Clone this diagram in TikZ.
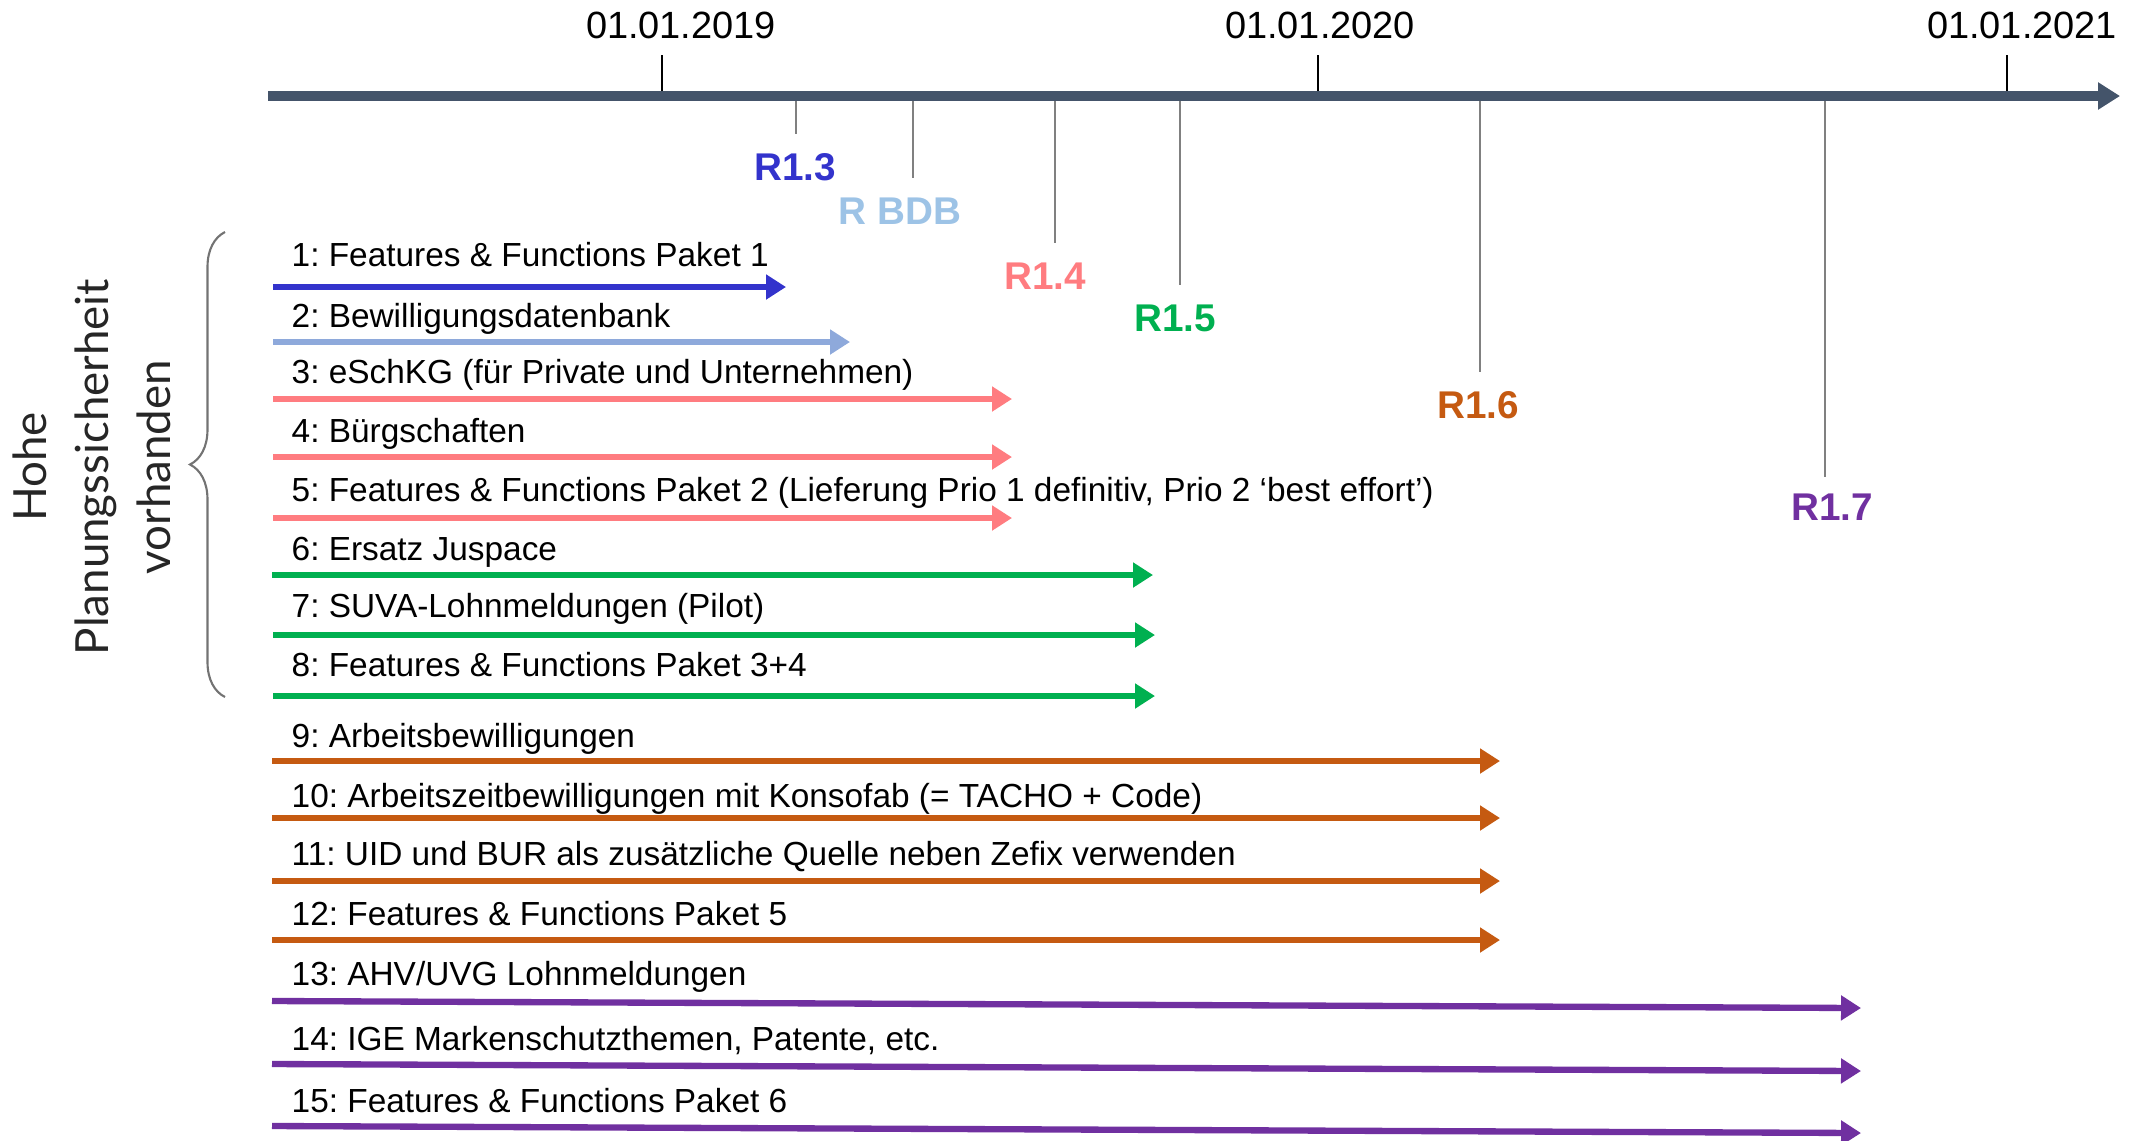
\documentclass[tikz,border=0pt]{standalone}
\usepackage{fontspec}
\setmainfont{Liberation Sans}
\newfontfamily\latofont{Lato}
\usetikzlibrary{arrows.meta,decorations.pathreplacing}
\frenchspacing
\definecolor{axisgray}{HTML}{44546A}
\definecolor{cR13}{HTML}{3333CC}
\definecolor{cBDB}{HTML}{9DC3E6}
\definecolor{cBDBbar}{HTML}{8EA9DB}
\definecolor{cR14}{HTML}{FF7C80}
\definecolor{cR15}{HTML}{00B050}
\definecolor{cR16}{HTML}{C55A11}
\definecolor{cR17}{HTML}{7030A0}
\tikzstyle{task}=[anchor=base west,inner sep=0pt,font=\fontsize{9.5}{11.4}\selectfont]
\tikzstyle{bar}=[line width=1.8pt,-{Triangle[length=2mm,width=2.4mm]}]
\tikzstyle{release}=[inner sep=0pt,font=\fontsize{11}{13}\selectfont\bfseries]
\tikzstyle{date}=[anchor=base,inner sep=0pt,font=\fontsize{10.8}{13}\selectfont]
\tikzstyle{rtick}=[black!50,line width=0.5pt]
\tikzstyle{dtick}=[black,line width=0.5pt]

\begin{document}
\begin{tikzpicture}
\useasboundingbox (0,0) rectangle (21.31,-11.40);

% time axis with dates
\coordinate (ax0) at (2.68,-0.96);
\coordinate (ax1) at (21.20,-0.96);
\coordinate (d19) at (6.62,-0.96);
\coordinate (d20) at (13.18,-0.96);
\coordinate (d21) at (20.07,-0.96);
\node[date] (l19) at (6.81,-0.38) {01.01.2019};
\node[date] (l20) at (13.20,-0.38) {01.01.2020};
\node[date] (l21) at (20.22,-0.38) {01.01.2021};
\draw[dtick] (d19)--([yshift=-1.6mm]d19 |- l19.south);
\draw[dtick] (d20)--([yshift=-1.6mm]d20 |- l20.south);
\draw[dtick] (d21)--([yshift=-1.6mm]d21 |- l21.south);

% releases
\coordinate (p13) at (7.96,-0.96);
\coordinate (pbdb) at (9.13,-0.96);
\coordinate (p14) at (10.55,-0.96);
\coordinate (p15) at (11.80,-0.96);
\coordinate (p16) at (14.80,-0.96);
\coordinate (p17) at (18.25,-0.96);
\node[release,cR13] (r13) at (7.95,-1.67) {R1.3};
\node[release,cBDB] (rbdb) at (9.00,-2.11) {R BDB};
\node[release,cR14] (r14) at (10.45,-2.76) {R1.4};
\node[release,cR15] (r15) at (11.75,-3.18) {R1.5};
\node[release,cR16] (r16) at (14.78,-4.05) {R1.6};
\node[release,cR17] (r17) at (18.32,-5.07) {R1.7};
\draw[rtick] (p13)--([yshift=1.9mm]p13 |- r13.north);
\draw[rtick] (pbdb)--([yshift=1.9mm]pbdb |- rbdb.north);
\draw[rtick] (p14)--([yshift=1.9mm]p14 |- r14.north);
\draw[rtick] (p15)--([yshift=1.9mm]p15 |- r15.north);
\draw[rtick] (p16)--([yshift=1.9mm]p16 |- r16.north);
\draw[rtick] (p17)--([yshift=1.6mm]p17 |- r17.north);

\draw[axisgray,line width=2.6pt,-{Triangle[length=2.2mm,width=2.6mm]}] (ax0)--(ax1);

% work packages
\node[task] (t1) at (2.91,-2.66) {1: Features \& Functions Paket 1};
\node[task] (t2) at (2.91,-3.27) {2: Bewilligungsdatenbank};
\node[task] (t3) at (2.91,-3.83) {3: eSchKG (für Private und Unternehmen)};
\node[task] (t4) at (2.91,-4.42) {4: Bürgschaften};
\node[task] (t5) at (2.91,-5.01) {5: Features \& Functions Paket 2 (Lieferung Prio 1 definitiv, Prio 2 ‘best effort’)};
\node[task] (t6) at (2.91,-5.60) {6: Ersatz Juspace};
\node[task] (t7) at (2.91,-6.17) {7: SUVA-Lohnmeldungen (Pilot)};
\node[task] (t8) at (2.91,-6.76) {8: Features \& Functions Paket 3+4};
\node[task] (t9) at (2.91,-7.47) {9: Arbeitsbewilligungen};
\node[task] (t10) at (2.91,-8.07) {10: Arbeitszeitbewilligungen mit Konsofab (= TACHO + Code)};
\node[task] (t11) at (2.91,-8.65) {11: UID und BUR als zusätzliche Quelle neben Zefix verwenden};
\node[task] (t12) at (2.91,-9.25) {12: Features \& Functions Paket 5};
\node[task] (t13) at (2.91,-9.85) {13: AHV/UVG Lohnmeldungen};
\node[task] (t14) at (2.91,-10.50) {14: IGE Markenschutzthemen, Patente, etc.};
\node[task] (t15) at (2.91,-11.12) {15: Features \& Functions Paket 6};

\coordinate (s1) at (2.73,-2.87); \coordinate (e1) at (7.86,-2.87);
\coordinate (s2) at (2.73,-3.42); \coordinate (e2) at (8.50,-3.42);
\coordinate (s3) at (2.73,-3.99); \coordinate (e3) at (10.12,-3.99);
\coordinate (s4) at (2.73,-4.57); \coordinate (e4) at (10.12,-4.57);
\coordinate (s5) at (2.73,-5.18); \coordinate (e5) at (10.12,-5.18);
\coordinate (s6) at (2.72,-5.75); \coordinate (e6) at (11.53,-5.75);
\coordinate (s7) at (2.73,-6.35); \coordinate (e7) at (11.55,-6.35);
\coordinate (s8) at (2.73,-6.96); \coordinate (e8) at (11.55,-6.96);
\coordinate (s9) at (2.72,-7.61); \coordinate (e9) at (15.00,-7.61);
\coordinate (s10) at (2.72,-8.18); \coordinate (e10) at (15.00,-8.18);
\coordinate (s11) at (2.72,-8.81); \coordinate (e11) at (15.00,-8.81);
\coordinate (s12) at (2.72,-9.40); \coordinate (e12) at (15.00,-9.40);
\coordinate (s13) at (2.72,-10.01); \coordinate (e13) at (18.61,-10.08);
\coordinate (s14) at (2.72,-10.64); \coordinate (e14) at (18.61,-10.71);
\coordinate (s15) at (2.72,-11.26); \coordinate (e15) at (18.61,-11.33);

\draw[bar,cR13] (s1)--(e1);
\draw[bar,cBDBbar] (s2)--(e2);
\draw[bar,cR14] (s3)--(e3);
\draw[bar,cR14] (s4)--(e4);
\draw[bar,cR14] (s5)--(e5);
\draw[bar,cR15] (s6)--(e6);
\draw[bar,cR15] (s7)--(e7);
\draw[bar,cR15] (s8)--(e8);
\draw[bar,cR16] (s9)--(e9);
\draw[bar,cR16] (s10)--(e10);
\draw[bar,cR16] (s11)--(e11);
\draw[bar,cR16] (s12)--(e12);
\draw[bar,cR17] (s13)--(e13);
\draw[bar,cR17] (s14)--(e14);
\draw[bar,cR17] (s15)--(e15);

% group brace
\coordinate (bb) at (2.25,-6.97);
\coordinate (bt) at (2.25,-2.32);
\draw[black!55,line width=0.6pt,decorate,decoration={brace,amplitude=3.5mm}] (bb)--(bt);
\node[rotate=90,align=center,text=black!85,font=\latofont\fontsize{13}{17.6}\selectfont] (side) at (0.92,-4.67) {Hohe\\Planungssicherheit\\vorhanden};
\end{tikzpicture}
\end{document}
